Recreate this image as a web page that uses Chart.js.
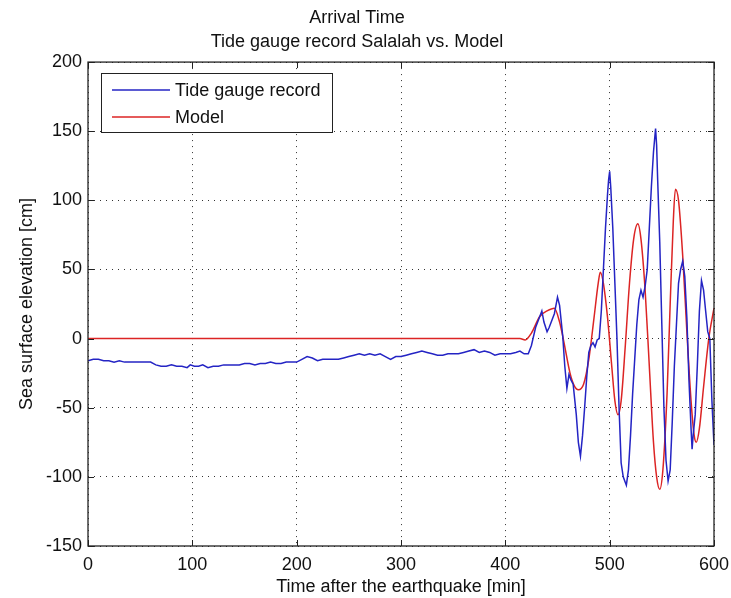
<!DOCTYPE html>
<html>
<head>
<meta charset="utf-8">
<script src="https://cdn.jsdelivr.net/npm/chart.js@4.4.1/dist/chart.umd.min.js"></script>
<style>
  html, body { margin: 0; padding: 0; background: #fff; }
  #wrap { width: 731px; height: 598px; }
</style>
</head>
<body>
<div id="wrap"><canvas id="tideChart" width="731" height="598"></canvas></div>
<script>
// Tide gauge record (Salalah), minutes after the earthquake / cm
const tideTime = [
  0, 5, 10, 15, 20, 25, 30, 35, 40, 45, 50, 55, 60, 65, 70, 75, 80, 85, 90, 95,
  98, 102, 106, 110, 115, 120, 125, 130, 135, 140, 145, 150, 155, 160, 165, 170, 175, 180, 185, 190,
  195, 200, 205, 210, 215, 220, 225, 230, 235, 240, 245, 250, 255, 260, 265, 270, 275, 280, 285, 290,
  295, 300, 305, 310, 315, 320, 325, 330, 335, 340, 345, 350, 355, 360, 365, 370, 375, 380, 385, 390,
  395, 400, 405, 410, 414, 418, 422, 425, 429, 432, 435, 437, 440, 442, 445, 447, 450, 452, 455, 457,
  459, 461, 463, 465, 468, 470, 472, 474, 476, 478, 480, 482, 484, 486, 488, 490, 492, 494, 496, 498,
  499, 500, 501, 503, 505, 507, 509, 511, 513, 515, 516, 518, 520, 522, 524, 526, 528, 530, 532, 534,
  536, 538, 540, 542, 544, 545, 546, 548, 550, 552, 554, 556, 558, 560, 562, 564, 566, 568, 570, 572,
  574, 576, 578, 579, 580, 582, 584, 586, 588, 590, 592, 594, 596, 598, 600
];
const tideLevel = [
  -16, -15, -15, -16, -16, -17, -16, -17, -17, -17, -17, -17, -17, -19, -20, -20, -19, -20, -20, -21,
  -19, -20, -20, -19, -21, -20, -20, -19, -19, -19, -19, -18, -18, -19, -18, -18, -17, -18, -18, -17,
  -17, -17, -15, -13, -14, -16, -15, -15, -15, -15, -14, -13, -12, -11, -12, -11, -12, -11, -13, -15,
  -13, -13, -12, -11, -10, -9, -10, -11, -12, -12, -11, -11, -11, -10, -9, -8, -10, -9, -10, -12,
  -11, -11, -11, -10, -9, -11, -11, -5, 8, 14, 20, 12, 5, 8, 14, 18, 30, 24, 2, -20,
  -36, -26, -30, -33, -55, -75, -85, -70, -50, -28, -10, -5, -3, -6, -1, 0, 20, 50, 80, 105,
  115, 121, 110, 80, 40, 0, -50, -90, -100, -104, -106, -95, -70, -40, -15, 10, 28, 35, 30, 38,
  50, 80, 110, 135, 152, 140, 115, 70, 10, -50, -88, -103, -95, -60, -20, 10, 40, 50, 56, 45,
  15, -30, -65, -80, -70, -55, -20, 20, 42, 35, 20, 5, 0, -45, -77
];

// Model, minutes after the earthquake / cm
const modelTime = [
  0, 414, 419, 425, 433, 440, 447, 452, 456, 462, 466, 470, 475, 480, 485, 489, 491, 494, 498, 502,
  505, 508, 511, 515, 519, 523, 527, 530, 534, 538, 542, 545, 548, 551, 555, 558, 561, 563, 566, 570,
  574, 578, 581, 583, 586, 590, 595, 600
];
const modelLevel = [
  0, 0, -1, 4, 16, 20, 22, 12, -2, -25, -34, -37, -33, -15, 15, 40, 48, 40, 15, -20,
  -45, -55, -45, -5, 40, 72, 83, 72, 35, -20, -75, -100, -109, -95, -40, 25, 85, 108, 100, 60,
  5, -45, -70, -75, -65, -35, 0, 22
];

const xTicks = [0, 100, 200, 300, 400, 500, 600];
const yTicks = [-150, -100, -50, 0, 50, 100, 150, 200];

const fontFamily = '"Liberation Sans", Arial, Helvetica, sans-serif';
const inkColor = '#111';

const toPoints = (xs, ys) => xs.map((x, i) => ({ x, y: ys[i] }));

// MATLAB style frame: solid box, inward ticks on all sides, legend box top-left
const framePlugin = {
    id: 'matlabFrame',
    afterDatasetsDraw(chart) {
        const { ctx, chartArea: a, scales } = chart;
        const tickLen = 6;
        ctx.save();
        ctx.strokeStyle = '#222';
        ctx.lineWidth = 1;
        ctx.setLineDash([]);
        ctx.beginPath();
        xTicks.forEach((v) => {
            const px = Math.round(scales.x.getPixelForValue(v)) + 0.5;
            ctx.moveTo(px, a.bottom);
            ctx.lineTo(px, a.bottom - tickLen);
            ctx.moveTo(px, a.top);
            ctx.lineTo(px, a.top + tickLen);
        });
        yTicks.forEach((v) => {
            const py = Math.round(scales.y.getPixelForValue(v)) + 0.5;
            ctx.moveTo(a.left, py);
            ctx.lineTo(a.left + tickLen, py);
            ctx.moveTo(a.right, py);
            ctx.lineTo(a.right - tickLen, py);
        });
        ctx.stroke();
        ctx.lineWidth = 1.3;
        ctx.strokeRect(a.left, a.top, a.right - a.left, a.bottom - a.top);

        // legend
        const box = { x: 101, y: 73, w: 231, h: 59 };
        ctx.fillStyle = '#fff';
        ctx.fillRect(box.x, box.y, box.w, box.h);
        ctx.lineWidth = 1;
        ctx.strokeStyle = '#222';
        ctx.strokeRect(box.x + 0.5, box.y + 0.5, box.w, box.h);
        ctx.font = '18px ' + fontFamily;
        ctx.textBaseline = 'middle';
        ctx.textAlign = 'left';
        chart.data.datasets.forEach((ds, i) => {
            const y = box.y + 17 + i * 27;
            ctx.strokeStyle = ds.borderColor;
            ctx.lineWidth = 1.5;
            ctx.beginPath();
            ctx.moveTo(112, y);
            ctx.lineTo(170, y);
            ctx.stroke();
            ctx.fillStyle = inkColor;
            ctx.fillText(ds.label, 175, y + 1);
        });
        ctx.restore();
    },
};

const chart = new Chart(document.getElementById('tideChart'), {
    type: 'line',
    data: {
        datasets: [
            {
                label: 'Tide gauge record',
                data: toPoints(tideTime, tideLevel),
                borderColor: '#2424c4',
                borderWidth: 1.5,
                pointRadius: 0,
                tension: 0,
                fill: false,
            },
            {
                label: 'Model',
                data: toPoints(modelTime, modelLevel),
                borderColor: '#dc2424',
                borderWidth: 1.5,
                pointRadius: 0,
                cubicInterpolationMode: 'monotone',
                fill: false,
            },
        ],
    },
    options: {
        responsive: false,
        animation: false,
        events: [],
        layout: { padding: { left: 0, right: 17, top: 0, bottom: 0 } },
        plugins: {
            legend: { display: false },
            tooltip: { enabled: false },
            title: {
                display: true,
                text: ['Arrival Time', 'Tide gauge record Salalah vs. Model'],
                color: inkColor,
                font: { family: fontFamily, size: 18, weight: 'normal', lineHeight: 1.28 },
                padding: { top: 7, bottom: 9 },
            },
        },
        scales: {
            x: {
                type: 'linear',
                min: 0,
                max: 600,
                afterBuildTicks: (scale) => { scale.ticks = xTicks.map((value) => ({ value })); },
                afterFit: (scale) => {
                    scale.height = 52;
                    scale.paddingLeft = 0;
                    scale.paddingRight = 0;
                },
                grid: { color: '#333', lineWidth: 1, drawTicks: false },
                border: { display: false, dash: [1, 5] },
                ticks: {
                    color: inkColor,
                    padding: 8,
                    maxRotation: 0,
                    font: { family: fontFamily, size: 18 },
                },
                title: {
                    display: true,
                    text: 'Time after the earthquake [min]',
                    color: inkColor,
                    font: { family: fontFamily, size: 18 },
                    padding: { top: 0, bottom: 0 },
                },
            },
            y: {
                min: -150,
                max: 200,
                afterBuildTicks: (scale) => { scale.ticks = yTicks.map((value) => ({ value })); },
                afterFit: (scale) => {
                    scale.width = 88;
                    scale.paddingTop = 0;
                    scale.paddingBottom = 0;
                },
                grid: { color: '#333', lineWidth: 1, drawTicks: false },
                border: { display: false, dash: [1, 5] },
                ticks: {
                    color: inkColor,
                    padding: 6,
                    font: { family: fontFamily, size: 18 },
                },
                title: {
                    display: true,
                    text: 'Sea surface elevation [cm]',
                    color: inkColor,
                    font: { family: fontFamily, size: 18 },
                    padding: { top: 16, bottom: 0 },
                },
            },
        },
    },
    plugins: [framePlugin],
});
</script>
</body>
</html>
